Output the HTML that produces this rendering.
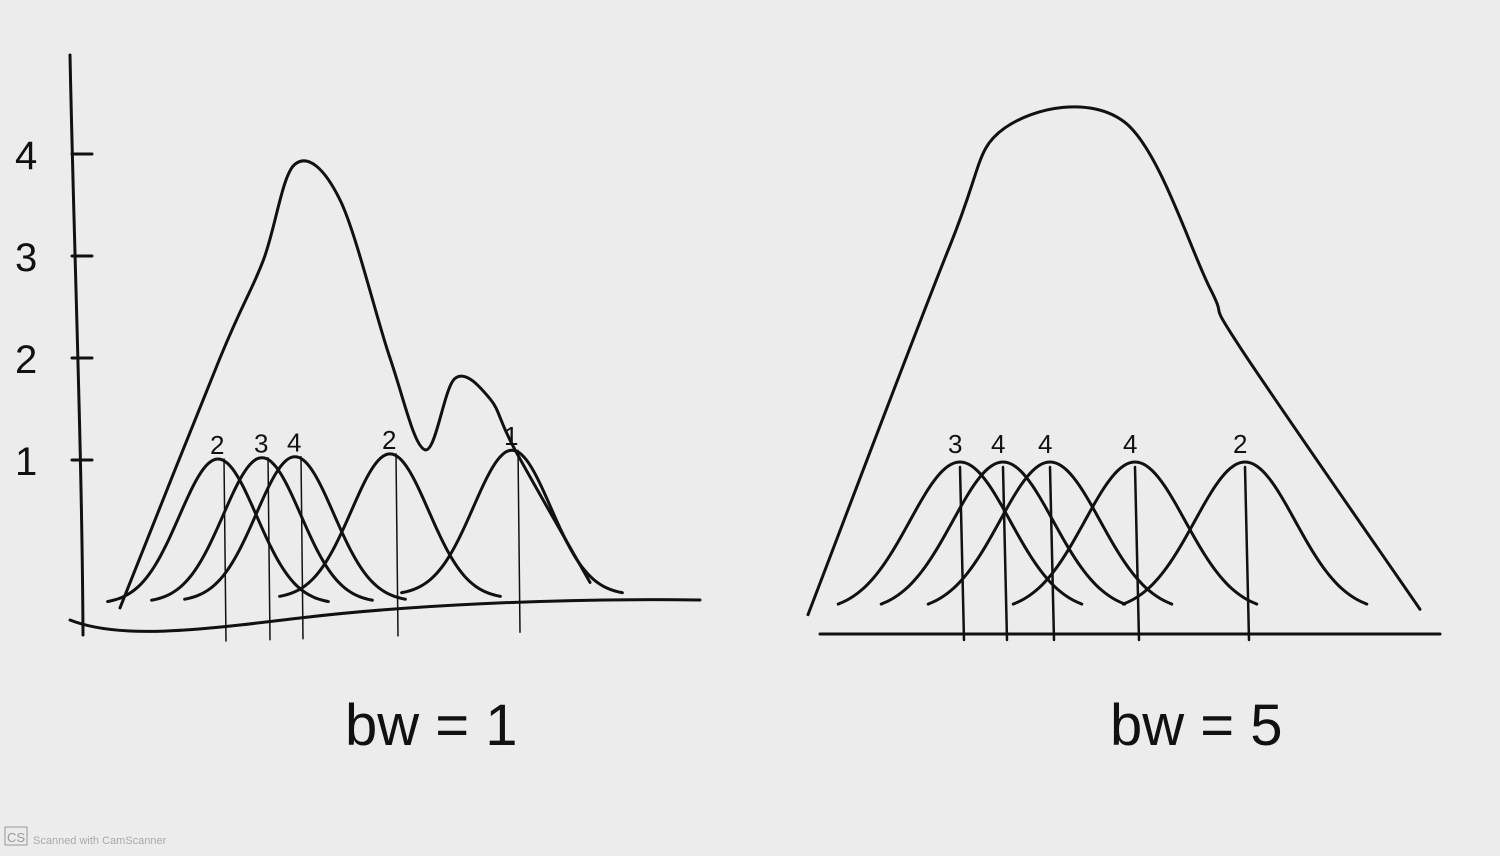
<!DOCTYPE html>
<html><head><meta charset="utf-8"><style>
html,body{margin:0;padding:0;width:1500px;height:856px;overflow:hidden;background:#ececec;}
svg{display:block}
text{font-family:"Liberation Sans",sans-serif;fill:#111}
</style></head><body>
<svg id="chart" width="1500" height="856" viewBox="0 0 1500 856">
<rect x="0" y="0" width="1500" height="856" fill="#ececec"/>
<g id="left"></g>
<g id="right"></g>
<text x="345" y="745" font-size="58">bw = 1</text>
<text x="1110" y="745" font-size="58">bw = 5</text>
<rect x="5" y="827" width="22" height="18" fill="none" stroke="#999"/>
<text x="7" y="842" font-size="13" style="fill:#999">CS</text>
<text x="33" y="844" font-size="11" style="fill:#aaa">Scanned with CamScanner</text>
</svg>
<script>
// Left panel data (bw = 1)
const leftCenters = [2.36, 3.24, 3.9, 5.8, 8.24];
const leftCounts = ["2", "3", "4", "2", "1"];
const leftYTicks = [1, 2, 3, 4];
const leftDensityX = [0.4, 2.4, 3.26, 3.9, 4.8, 5.8, 6.5, 7.1, 7.8, 8.3, 9.8];
const leftDensityY = [-0.45, 2.0, 2.95, 3.9, 3.55, 2.0, 1.1, 1.8, 1.6, 1.1, -0.2];
// Right panel data (bw = 5)
const rightCenters = [3.0, 3.86, 4.8, 6.5, 8.7];
const rightCounts = ["3", "4", "4", "4", "2"];
const rightDensityX = [-0.04, 2.8, 3.9, 6.3, 8.0, 8.6, 12.2];
const rightDensityY = [0.05, 3.5, 4.6, 4.65, 3.1, 2.55, 0.1];

const NS = "http://www.w3.org/2000/svg";
function mk(tag, attrs, parent){const e=document.createElementNS(NS,tag);for(const k in attrs)e.setAttribute(k,attrs[k]);parent.appendChild(e);return e;}
const ink = {stroke:"#111", fill:"none", "stroke-linecap":"round", "stroke-linejoin":"round"};
function smooth(pts){let d="M"+pts[0][0]+","+pts[0][1];for(let i=0;i<pts.length-1;i++){const p0=pts[i-1]||pts[i],p1=pts[i],p2=pts[i+1],p3=pts[i+2]||p2;
 const c1=[p1[0]+(p2[0]-p0[0])/6,p1[1]+(p2[1]-p0[1])/6],c2=[p2[0]-(p3[0]-p1[0])/6,p2[1]-(p3[1]-p1[1])/6];
 d+=" C"+c1[0]+","+c1[1]+" "+c2[0]+","+c2[1]+" "+p2[0]+","+p2[1];}return d;}

// ---- left panel ----
const L = document.getElementById("left");
const lsx = u => 100 + 50*u;
const lsy = v => 562 - 102*v;
const lbase = x => 620 - (x-85)*0.03;
let a = mk("path", Object.assign({d:"M70,55 C74,250 82,450 83,635","stroke-width":3}, ink), L);


a = mk("path", Object.assign({d:"M70,620 C120,640 200,630 300,618 S550,598 700,600","stroke-width":3}, ink), L);


leftYTicks.forEach(t=>{
  const y=lsy(t);
  let tk=mk("line",Object.assign({x1:72,y1:y,x2:92,y2:y,"stroke-width":3},ink),L);
  
  
  let tx=mk("text",{x:15,y:y+15,"font-size":40},L); tx.textContent=t;
  
  
});
leftCenters.forEach((c,i)=>{
  const cx=lsx(c), b=lbase(cx), pts=[];
  for(let s=-2.3;s<=2.31;s+=0.1){const x=cx+s*48;pts.push([x,b-12-145*Math.exp(-s*s/1.3)]);}
  let k=mk("path",Object.assign({d:smooth(pts),"stroke-width":3},ink),L);
  
  
  let v=mk("line",Object.assign({x1:cx+6,y1:b-157,x2:cx+8,y2:b+25,"stroke-width":1.5},ink),L);
  
  
  let lb=mk("text",{x:cx-8,y:b-162,"font-size":26},L); lb.textContent=leftCounts[i];
  
  
});
let dl=mk("path",Object.assign({d:smooth(leftDensityX.map((x,i)=>[lsx(x),lsy(leftDensityY[i])])),"stroke-width":3},ink),L);



// ---- right panel ----
const R = document.getElementById("right");
const rsx = u => 810 + 50*u;
const rsy = v => 620 - 107*v;
a = mk("line", Object.assign({x1:820,y1:634,x2:1440,y2:634,"stroke-width":3}, ink), R);


rightCenters.forEach((c,i)=>{
  const cx=rsx(c), pts=[];
  for(let s=-2.1;s<=2.11;s+=0.1){const x=cx+s*58;pts.push([x,612-150*Math.exp(-s*s/1.5)]);}
  let k=mk("path",Object.assign({d:smooth(pts),"stroke-width":3},ink),R);
  
  
  let v=mk("line",Object.assign({x1:cx,y1:467,x2:cx+4,y2:640,"stroke-width":2.5},ink),R);
  
  
  let lb=mk("text",{x:cx-12,y:453,"font-size":26},R); lb.textContent=rightCounts[i];
  
  
});
let dr=mk("path",Object.assign({d:smooth(rightDensityX.map((x,i)=>[rsx(x),rsy(rightDensityY[i])])),"stroke-width":3},ink),R);


</script>
</body></html>
